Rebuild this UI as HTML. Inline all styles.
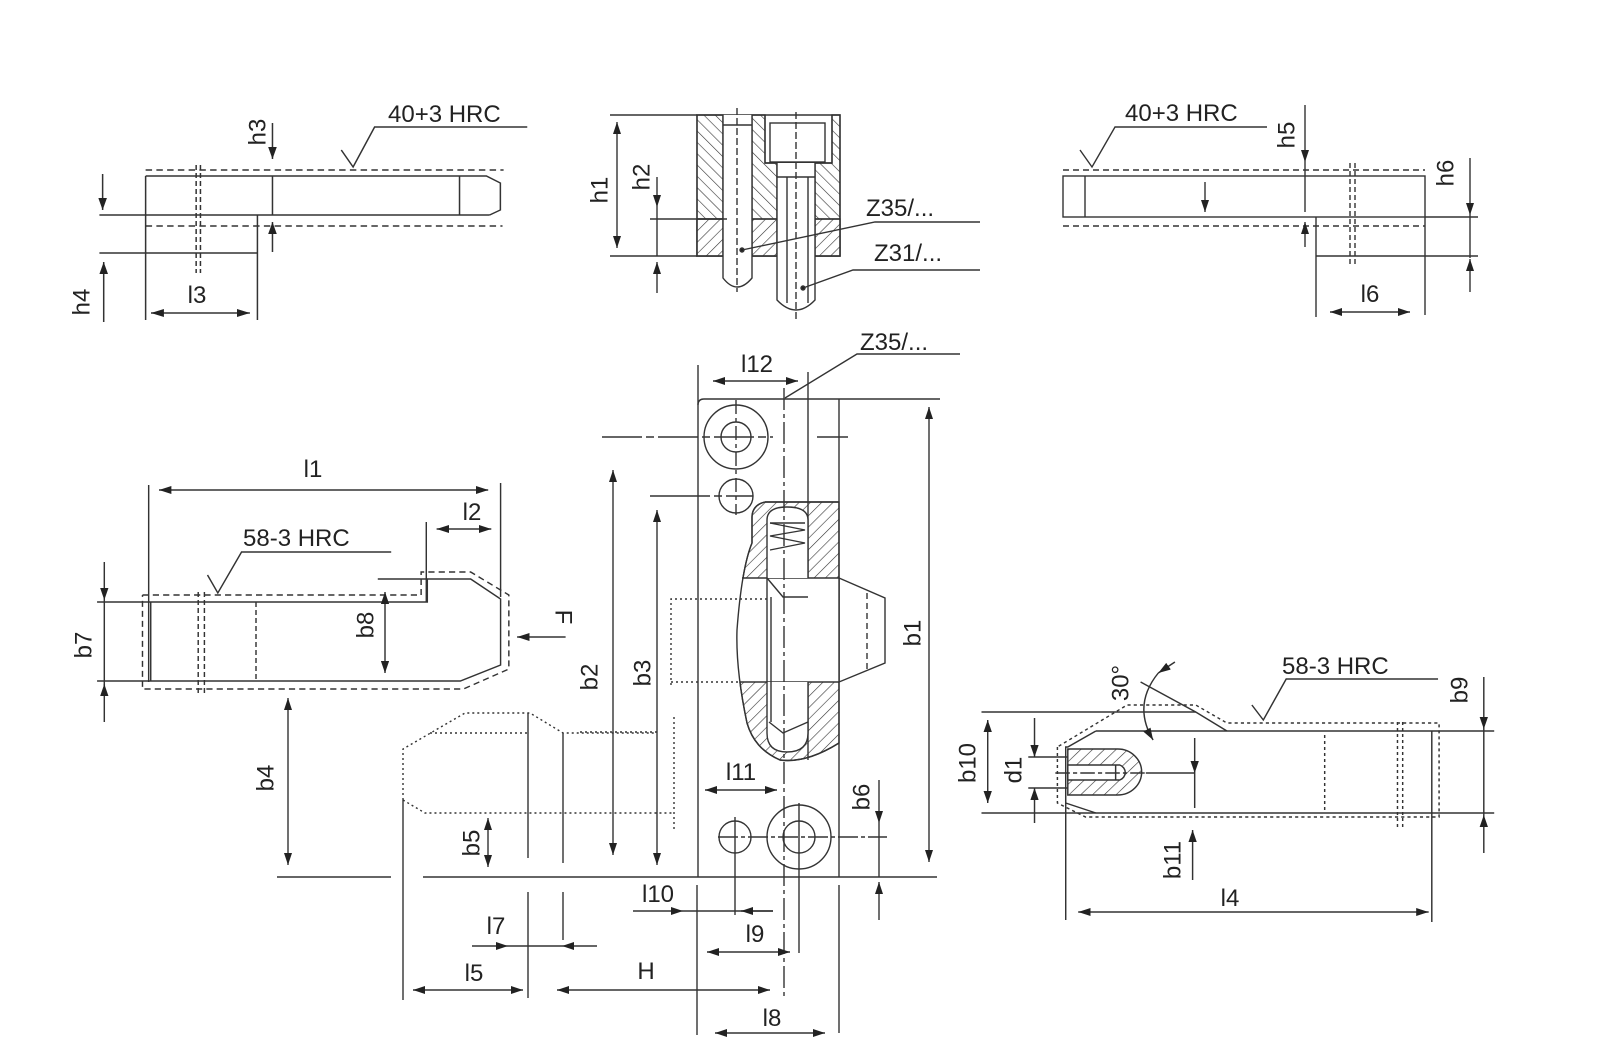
<!DOCTYPE html>
<html><head><meta charset="utf-8"><style>
html,body{margin:0;padding:0;background:#fff;}
svg{display:block;}
text{font-family:"Liberation Sans",sans-serif;fill:#222;font-size:24px;}
</style></head><body>
<svg width="1600" height="1049" viewBox="0 0 1600 1049" xmlns="http://www.w3.org/2000/svg">
<defs>
<marker id="a" markerUnits="userSpaceOnUse" markerWidth="12" markerHeight="8" refX="12" refY="4" orient="auto-start-reverse"><path d="M0,0 L12,4 L0,8 z" fill="#222"/></marker>
<pattern id="hA" patternUnits="userSpaceOnUse" width="8" height="8" patternTransform="rotate(45)"><line x1="0" y1="0" x2="0" y2="8" stroke="#333" stroke-width="1.2"/></pattern>
<pattern id="hB" patternUnits="userSpaceOnUse" width="8" height="8" patternTransform="rotate(-45)"><line x1="0" y1="0" x2="0" y2="8" stroke="#333" stroke-width="1.2"/></pattern>
</defs>
<rect width="1600" height="1049" fill="#fff"/>
<g fill="none" stroke="#333" stroke-width="1.4">

<!-- ===== TOP-LEFT ===== -->
<g transform="matrix(1.075 0 0 1 0.5 0)">
<line x1="135" y1="170" x2="468" y2="170" stroke-dasharray="6 4"/>
<polyline points="135,176 452,176 465,183 465,210 455,215"/>
<line x1="92" y1="215" x2="455" y2="215"/>
<line x1="253" y1="176" x2="253" y2="215"/>
<line x1="427" y1="176" x2="427" y2="215"/>
<line x1="135" y1="226" x2="467" y2="226" stroke-dasharray="6 4"/>
<line x1="239" y1="215" x2="239" y2="320"/>
<line x1="92" y1="253" x2="239" y2="253"/>
<line x1="135" y1="176" x2="135" y2="320"/>
<line x1="182" y1="165" x2="182" y2="273" stroke-dasharray="5 3"/>
<line x1="186" y1="165" x2="186" y2="273" stroke-dasharray="5 3"/>
<line x1="253" y1="123" x2="253" y2="159" marker-end="url(#a)"/>
<line x1="253" y1="252" x2="253" y2="222" marker-end="url(#a)"/>
<line x1="95" y1="174" x2="95" y2="210" marker-end="url(#a)"/>
<line x1="96" y1="322" x2="96" y2="262" marker-end="url(#a)"/>
<line x1="140" y1="313" x2="232" y2="313" marker-start="url(#a)" marker-end="url(#a)"/>
<polyline points="317,150 328,167 348,127 490,127"/>
</g>

<!-- ===== TOP-MIDDLE ===== -->
<path d="M697,115 H723 V256 H697 Z" fill="url(#hB)"/>
<path d="M752,115 H765 V163 H777 V256 H752 Z" fill="url(#hB)"/>
<path d="M832,115 H840 V256 H815 V163 H832 Z" fill="url(#hB)"/>
<rect x="697" y="219" width="26" height="37" fill="#fff"/>
<rect x="752" y="219" width="25" height="37" fill="#fff"/>
<rect x="815" y="219" width="25" height="37" fill="#fff"/>
<rect x="697" y="219" width="26" height="37" fill="url(#hA)" stroke="none"/>
<rect x="752" y="219" width="25" height="37" fill="url(#hA)" stroke="none"/>
<rect x="815" y="219" width="25" height="37" fill="url(#hA)" stroke="none"/>
<path d="M697,115 H840 V256 H697 Z"/>
<line x1="697" y1="219" x2="840" y2="219"/>
<path d="M723,115 V278 Q737,296 752,278 V115" fill="#fff"/>
<line x1="723" y1="125" x2="752" y2="125"/>
<path d="M765,115 V163 H832 V115"/>
<rect x="770" y="123" width="55" height="39"/>
<path d="M777,163 V300 Q796,320 815,300 V163" fill="#fff"/>
<line x1="787" y1="177" x2="787" y2="303"/>
<line x1="808" y1="177" x2="808" y2="303"/>
<line x1="777" y1="177" x2="815" y2="177"/>
<line x1="737" y1="108" x2="737" y2="292" stroke-dasharray="7 3"/>
<line x1="796" y1="112" x2="796" y2="320" stroke-dasharray="7 3"/>
<line x1="610" y1="115" x2="697" y2="115"/>
<line x1="610" y1="256" x2="697" y2="256"/>
<line x1="617" y1="122" x2="617" y2="248" marker-start="url(#a)" marker-end="url(#a)"/>
<line x1="657" y1="177" x2="657" y2="207" marker-end="url(#a)"/>
<line x1="657" y1="293" x2="657" y2="262" marker-end="url(#a)"/>
<line x1="657" y1="207" x2="657" y2="256"/>
<line x1="650" y1="219" x2="727" y2="219"/>
<polyline points="742,250 875,222 980,222"/>
<polyline points="803,288 853,270 980,270"/>
<circle cx="742" cy="250" r="2" fill="#222"/>
<circle cx="803" cy="288" r="2" fill="#222"/>

<!-- ===== TOP-RIGHT ===== -->
<line x1="1063" y1="170" x2="1425" y2="170" stroke-dasharray="6 4"/>
<rect x="1063" y="176" width="362" height="41"/>
<line x1="1085" y1="176" x2="1085" y2="217"/>
<line x1="1425" y1="217" x2="1478" y2="217"/>
<line x1="1063" y1="226" x2="1425" y2="226" stroke-dasharray="6 4"/>
<line x1="1316" y1="217" x2="1316" y2="317"/>
<line x1="1425" y1="217" x2="1425" y2="315"/>
<line x1="1316" y1="256" x2="1478" y2="256"/>
<line x1="1350" y1="163" x2="1350" y2="265" stroke-dasharray="5 3"/>
<line x1="1355" y1="163" x2="1355" y2="265" stroke-dasharray="5 3"/>
<line x1="1305" y1="105" x2="1305" y2="162" marker-end="url(#a)"/>
<line x1="1305" y1="162" x2="1305" y2="212"/>
<line x1="1305" y1="247" x2="1305" y2="222" marker-end="url(#a)"/>
<line x1="1470" y1="158" x2="1470" y2="215" marker-end="url(#a)"/>
<line x1="1470" y1="215" x2="1470" y2="258"/>
<line x1="1470" y1="292" x2="1470" y2="259" marker-end="url(#a)"/>
<line x1="1205" y1="182" x2="1205" y2="212" marker-end="url(#a)"/>
<line x1="1330" y1="312" x2="1410" y2="312" marker-start="url(#a)" marker-end="url(#a)"/>
<polyline points="1080,150 1092,167 1115,127 1267,127"/>

<!-- ===== LEFT-MIDDLE ===== -->
<g transform="matrix(1.032 0 0 1 1.1 0)">
<line x1="153" y1="490" x2="472" y2="490" marker-start="url(#a)" marker-end="url(#a)"/>
<line x1="143" y1="485" x2="143" y2="682"/>
<line x1="484" y1="483" x2="484" y2="597"/>
<line x1="422" y1="529" x2="475" y2="529" marker-start="url(#a)" marker-end="url(#a)"/>
<line x1="412" y1="522" x2="412" y2="602"/>
<polyline points="200,575 210,593 233,552 378,552"/>
<polyline points="93,602 413,602 413,579 455,579 484,599 484,665 445,681 93,681"/>
<line x1="365" y1="579" x2="413" y2="579"/>
<line x1="145" y1="602" x2="145" y2="681"/>
<polyline points="137,595 407,595 407,572 455,572 492,595 492,669 448,689 137,689 137,595" stroke-dasharray="6 4"/>
<line x1="191" y1="592" x2="191" y2="693" stroke-dasharray="5 3"/>
<line x1="197" y1="592" x2="197" y2="693" stroke-dasharray="5 3"/>
<line x1="247" y1="602" x2="247" y2="681" stroke-dasharray="5 3"/>
<line x1="100" y1="562" x2="100" y2="600" marker-end="url(#a)"/>
<line x1="100" y1="600" x2="100" y2="688"/>
<line x1="100" y1="722" x2="100" y2="684" marker-end="url(#a)"/>
<line x1="372" y1="592" x2="372" y2="673" marker-start="url(#a)" marker-end="url(#a)"/>
<line x1="547" y1="637" x2="500" y2="637" marker-end="url(#a)"/>
</g>

<!-- ===== MIDDLE PLATE ===== -->
<line x1="713" y1="381" x2="798" y2="381" marker-start="url(#a)" marker-end="url(#a)"/>
<line x1="698" y1="365" x2="698" y2="877"/>
<line x1="808" y1="372" x2="808" y2="760"/>
<polyline points="785,398 857,354 960,354"/>
<path d="M698,405 Q698,399 704,399 H940"/>
<line x1="839" y1="399" x2="839" y2="877"/>
<circle cx="736" cy="437" r="32"/>
<circle cx="736" cy="437" r="15"/>
<circle cx="736" cy="496" r="17"/>
<line x1="602" y1="437" x2="773" y2="437" stroke-dasharray="40 4 8 4"/>
<line x1="817" y1="437" x2="848" y2="437"/>
<line x1="736" y1="400" x2="736" y2="515" stroke-dasharray="14 4 4 4"/>
<line x1="650" y1="496" x2="753" y2="496" stroke-dasharray="60 4 8 4"/>
<line x1="613" y1="470" x2="613" y2="855" marker-start="url(#a)" marker-end="url(#a)"/>
<line x1="657" y1="510" x2="657" y2="865" marker-start="url(#a)" marker-end="url(#a)"/>
<line x1="929" y1="407" x2="929" y2="862" marker-start="url(#a)" marker-end="url(#a)"/>
<path d="M765,502 C756,504 752,510 752,517 L752,543 C745,560 740,590 737,630 C736,660 740,690 747,723 C752,740 762,752 780,760 C795,762 815,758 839,743 L839,502 Z" fill="url(#hA)"/>
<rect x="730" y="578" width="109" height="104" fill="#fff" stroke="none"/>
<path d="M765,502 C756,504 752,510 752,517 L752,543 C745,560 740,590 737,630 C736,660 740,690 747,723 C752,740 762,752 780,760 C795,762 815,758 839,743"/>
<line x1="765" y1="502" x2="839" y2="502"/>
<line x1="742" y1="578" x2="839" y2="578"/>
<line x1="740" y1="682" x2="839" y2="682"/>
<path d="M767,578 V520 Q767,507 787,507 Q808,507 808,520 V578" fill="#fff"/>
<path d="M767,682 V733 Q767,752 787,752 Q808,752 808,733 V682" fill="#fff"/>
<line x1="767" y1="578" x2="767" y2="682"/>
<polyline points="767,578 783,597 808,597"/>
<polyline points="769,722 783,733 808,722"/>
<line x1="771" y1="722" x2="771" y2="597"/>
<polyline points="770,523 805,530 770,536 805,543 770,550" stroke-width="1.2"/>
<line x1="770" y1="523" x2="805" y2="523"/>
<polygon points="839,578 885,598 885,663 839,682"/>
<line x1="867" y1="593" x2="867" y2="673" stroke-dasharray="6 4"/>
<polyline points="767,599 671,599 671,685" stroke-dasharray="2 3"/>
<line x1="671" y1="682" x2="740" y2="682" stroke-dasharray="2 3"/>
<line x1="784" y1="388" x2="784" y2="997" stroke-dasharray="22 4 4 4"/>

<!-- ===== LOWER PIN ===== -->
<polyline points="403,800 403,749 465,713 530,713 563,733 657,733" stroke-dasharray="2 3"/>
<line x1="430" y1="733" x2="530" y2="733" stroke-dasharray="2 3"/>
<polyline points="403,800 425,813 674,813" stroke-dasharray="2 3"/>
<line x1="674" y1="717" x2="674" y2="830" stroke-dasharray="2 3"/>
<line x1="580" y1="732" x2="657" y2="732" stroke-dasharray="2 3"/>
<line x1="528" y1="713" x2="528" y2="858"/>
<line x1="563" y1="733" x2="563" y2="863"/>
<line x1="403" y1="800" x2="403" y2="1000"/>
<line x1="423" y1="877" x2="937" y2="877"/>
<line x1="277" y1="877" x2="391" y2="877"/>
<line x1="288" y1="698" x2="288" y2="865" marker-start="url(#a)" marker-end="url(#a)"/>
<line x1="488" y1="818" x2="488" y2="867" marker-start="url(#a)" marker-end="url(#a)"/>
<line x1="633" y1="911" x2="683" y2="911" marker-end="url(#a)"/>
<line x1="683" y1="911" x2="773" y2="911"/>
<line x1="773" y1="911" x2="741" y2="911" marker-end="url(#a)"/>
<line x1="472" y1="946" x2="508" y2="946" marker-end="url(#a)"/>
<line x1="508" y1="946" x2="562" y2="946"/>
<line x1="597" y1="946" x2="562" y2="946" marker-end="url(#a)"/>
<line x1="413" y1="990" x2="523" y2="990" marker-start="url(#a)" marker-end="url(#a)"/>
<line x1="557" y1="990" x2="770" y2="990" marker-start="url(#a)" marker-end="url(#a)"/>
<line x1="528" y1="892" x2="528" y2="998"/>
<line x1="563" y1="892" x2="563" y2="940"/>
<line x1="697" y1="885" x2="697" y2="1035"/>
<line x1="839" y1="885" x2="839" y2="1033"/>
<line x1="705" y1="790" x2="777" y2="790" marker-start="url(#a)" marker-end="url(#a)"/>
<circle cx="735" cy="837" r="16"/>
<circle cx="799" cy="837" r="32"/>
<circle cx="799" cy="837" r="16"/>
<line x1="718" y1="837" x2="887" y2="837" stroke-dasharray="20 3 4 3"/>
<line x1="735" y1="817" x2="735" y2="915"/>
<line x1="799" y1="803" x2="799" y2="953"/>
<line x1="879" y1="780" x2="879" y2="823" marker-end="url(#a)"/>
<line x1="879" y1="823" x2="879" y2="877"/>
<line x1="879" y1="920" x2="879" y2="882" marker-end="url(#a)"/>
<line x1="707" y1="952" x2="790" y2="952" marker-start="url(#a)" marker-end="url(#a)"/>
<line x1="715" y1="1033" x2="825" y2="1033" marker-start="url(#a)" marker-end="url(#a)"/>

<!-- ===== LOWER-RIGHT ===== -->
<g transform="matrix(1.04 0 0 1 -34.6 0)">
<line x1="977" y1="712" x2="1183" y2="712"/>
<polyline points="1130,682 1183,712 1213,731"/>
<line x1="1087" y1="731" x2="1470" y2="731"/>
<polyline points="1087,731 1060,747 1058,747 1058,803 1087,813"/>
<line x1="977" y1="813" x2="1470" y2="813"/>
<line x1="1410" y1="731" x2="1410" y2="922"/>
<line x1="1058" y1="803" x2="1058" y2="920"/>
<polyline points="1050,747 1050,803 1077,817 1417,817 1417,723 1213,723 1183,705 1117,705 1050,747" stroke-dasharray="3 3"/>
<line x1="1307" y1="735" x2="1307" y2="813" stroke-dasharray="3 3"/>
<line x1="1377" y1="722" x2="1377" y2="828" stroke-dasharray="3 3"/>
<line x1="1382" y1="722" x2="1382" y2="828" stroke-dasharray="3 3"/>
<path d="M1060,749 H1108 A23,23 0 0 1 1108,795 H1060 Z" fill="url(#hA)"/>
<path d="M1060,765 H1110 A8,8 0 0 1 1110,780 H1060 Z" fill="#fff"/>
<line x1="1106" y1="765" x2="1106" y2="780"/>
<line x1="1022" y1="757" x2="1060" y2="757"/>
<line x1="1022" y1="788" x2="1060" y2="788"/>
<line x1="1048" y1="773" x2="1135" y2="773" stroke-dasharray="14 3 4 3"/>
<line x1="1135" y1="773" x2="1182" y2="773"/>
<line x1="1182" y1="738" x2="1182" y2="773" marker-end="url(#a)"/>
<line x1="1182" y1="773" x2="1182" y2="808"/>
<line x1="1028" y1="718" x2="1028" y2="757" marker-end="url(#a)"/>
<line x1="1028" y1="823" x2="1028" y2="788" marker-end="url(#a)"/>
<line x1="983" y1="720" x2="983" y2="803" marker-start="url(#a)" marker-end="url(#a)"/>
<line x1="1180" y1="880" x2="1180" y2="830" marker-end="url(#a)"/>
<line x1="1070" y1="912" x2="1407" y2="912" marker-start="url(#a)" marker-end="url(#a)"/>
<line x1="1460" y1="677" x2="1460" y2="729" marker-end="url(#a)"/>
<line x1="1460" y1="729" x2="1460" y2="815"/>
<line x1="1460" y1="853" x2="1460" y2="815" marker-end="url(#a)"/>
<line x1="1163" y1="662" x2="1147" y2="673" marker-end="url(#a)"/>
<path d="M1147,673 Q1122,705 1142,740" marker-end="url(#a)"/>
<polyline points="1237,705 1248,720 1270,679 1416,679"/>
</g>
</g>

<!-- ===== TEXT ===== -->
<text x="388" y="122" font-size="26">40+3 HRC</text>
<text x="258" y="132" text-anchor="middle" transform="rotate(-90 258 132)" dominant-baseline="central">h3</text>
<text x="82" y="302" text-anchor="middle" transform="rotate(-90 82 302)" dominant-baseline="central">h4</text>
<text x="197" y="303" text-anchor="middle">l3</text>

<text x="600" y="190" text-anchor="middle" transform="rotate(-90 600 190)" dominant-baseline="central">h1</text>
<text x="642" y="177" text-anchor="middle" transform="rotate(-90 642 177)" dominant-baseline="central">h2</text>
<text x="866" y="216" font-size="25">Z35/...</text>
<text x="874" y="261" font-size="25">Z31/...</text>

<text x="1125" y="121" font-size="26">40+3 HRC</text>
<text x="1287" y="135" text-anchor="middle" transform="rotate(-90 1287 135)" dominant-baseline="central">h5</text>
<text x="1446" y="173" text-anchor="middle" transform="rotate(-90 1446 173)" dominant-baseline="central">h6</text>
<text x="1370" y="302" text-anchor="middle">l6</text>

<text x="313" y="477" text-anchor="middle">l1</text>
<text x="472" y="520" text-anchor="middle">l2</text>
<text x="243" y="546" font-size="25">58-3 HRC</text>
<text x="84" y="645" text-anchor="middle" transform="rotate(-90 84 645)" dominant-baseline="central">b7</text>
<text x="366" y="625" text-anchor="middle" transform="rotate(-90 366 625)" dominant-baseline="central">b8</text>
<text x="563" y="617" text-anchor="middle" transform="rotate(90 563 617)" dominant-baseline="central">F</text>

<text x="757" y="372" text-anchor="middle">l12</text>
<text x="860" y="350" font-size="25">Z35/...</text>
<text x="913" y="633" text-anchor="middle" transform="rotate(-90 913 633)" dominant-baseline="central">b1</text>
<text x="590" y="677" text-anchor="middle" transform="rotate(-90 590 677)" dominant-baseline="central">b2</text>
<text x="643" y="673" text-anchor="middle" transform="rotate(-90 643 673)" dominant-baseline="central">b3</text>
<text x="266" y="778" text-anchor="middle" transform="rotate(-90 266 778)" dominant-baseline="central">b4</text>
<text x="472" y="843" text-anchor="middle" transform="rotate(-90 472 843)" dominant-baseline="central">b5</text>
<text x="862" y="797" text-anchor="middle" transform="rotate(-90 862 797)" dominant-baseline="central">b6</text>
<text x="741" y="780" text-anchor="middle">l11</text>
<text x="658" y="902" text-anchor="middle">l10</text>
<text x="496" y="934" text-anchor="middle">l7</text>
<text x="755" y="942" text-anchor="middle">l9</text>
<text x="474" y="981" text-anchor="middle">l5</text>
<text x="646" y="979" text-anchor="middle">H</text>
<text x="772" y="1026" text-anchor="middle">l8</text>

<text x="1282" y="674" font-size="25">58-3 HRC</text>
<text x="1121" y="683" text-anchor="middle" transform="rotate(-90 1121 683)" dominant-baseline="central">30°</text>
<text x="968" y="763" text-anchor="middle" transform="rotate(-90 968 763)" dominant-baseline="central">b10</text>
<text x="1014" y="770" text-anchor="middle" transform="rotate(-90 1014 770)" dominant-baseline="central">d1</text>
<text x="1173" y="860" text-anchor="middle" transform="rotate(-90 1173 860)" dominant-baseline="central">b11</text>
<text x="1460" y="690" text-anchor="middle" transform="rotate(-90 1460 690)" dominant-baseline="central">b9</text>
<text x="1230" y="906" text-anchor="middle">l4</text>
</svg>
</body></html>
